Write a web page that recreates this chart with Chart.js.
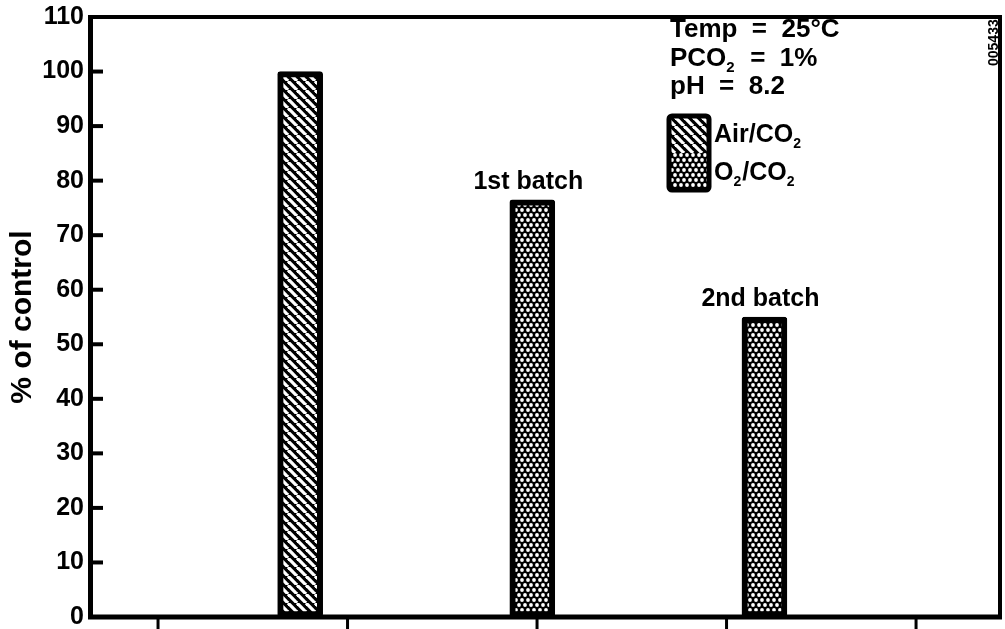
<!DOCTYPE html>
<html>
<head>
<meta charset="utf-8">
<script src="https://cdn.jsdelivr.net/npm/chart.js@4.4.1/dist/chart.umd.min.js"></script>
<style>
  html, body { margin: 0; padding: 0; background: #fff; }
  #wrap { width: 1005px; height: 629px; }
</style>
</head>
<body>
<div id="wrap"><canvas id="chart" width="1005" height="629"></canvas></div>
<script>
// data
const barX = [1.75, 2.975, 4.2]
const barValues = [100, 76.5, 55]
const barKinds = ['air', 'o2', 'o2']
const barLabels = ['', '1st batch', '2nd batch']
const yTicks = [0, 10, 20, 30, 40, 50, 60, 70, 80, 90, 100, 110]
const xTickMarks = [1, 2, 3, 4, 5]
const conditions = [['Temp  =  25°C'], ['PCO', '2', '  =  1%'], ['pH  =  8.2']]
const legendItems = [['Air/CO', '2', ''], ['O', '2', '/CO', '2']]

const FONT = "'Liberation Sans', Arial, sans-serif"

// hatched pattern: white "\" stripes on black
function makeHatch() {
  const p = 9
  const c = document.createElement('canvas')
  c.width = p; c.height = p
  const g = c.getContext('2d')
  g.fillStyle = '#000'
  g.fillRect(0, 0, p, p)
  g.strokeStyle = '#fff'
  g.lineWidth = 3.3
  for (let k = -1; k <= 1; k++) {
    g.beginPath()
    g.moveTo(k * p, 0)
    g.lineTo(k * p + p, p)
    g.stroke()
  }
  return g.createPattern(c, 'repeat')
}

// dotted pattern: white dots on black, staggered
function makeDots() {
  const w = 6, h = 10
  const c = document.createElement('canvas')
  c.width = w; c.height = h
  const g = c.getContext('2d')
  g.fillStyle = '#000'
  g.fillRect(0, 0, w, h)
  g.fillStyle = '#fff'
  const pts = [[0, 0], [w, 0], [0, h], [w, h], [w / 2, h / 2]]
  pts.forEach(([x, y]) => {
    g.beginPath()
    g.arc(x, y, 1.9, 0, Math.PI * 2)
    g.fill()
  })
  return g.createPattern(c, 'repeat')
}

const hatch = makeHatch()
const dots = makeDots()

// text with subscripts, parts alternate normal / subscript
function drawSubText(ctx, parts, x, y, size) {
  let cx = x
  parts.forEach((t, i) => {
    const sub = i % 2 === 1
    ctx.font = 'bold ' + (sub ? Math.round(size * 0.58) : size) + 'px ' + FONT
    ctx.fillText(t, cx, sub ? y + size * 0.25 : y)
    cx += ctx.measureText(t).width + (sub ? 1 : 0)
  })
}

const extras = {
  id: 'extras',
  afterDraw(chart) {
    const ctx = chart.ctx
    const a = chart.chartArea
    const xs = chart.scales.x
    const ys = chart.scales.y
    ctx.save()
    ctx.strokeStyle = '#000'
    ctx.fillStyle = '#000'

    // frame top and right, bottom axis
    ctx.lineWidth = 4
    ctx.beginPath()
    ctx.moveTo(a.left - 2, a.top)
    ctx.lineTo(a.right, a.top)
    ctx.lineTo(a.right, a.bottom)
    ctx.stroke()
    ctx.lineWidth = 5
    ctx.beginPath()
    ctx.moveTo(a.left - 2, a.bottom)
    ctx.lineTo(a.right + 2, a.bottom)
    ctx.stroke()

    // y ticks pointing inward
    ctx.lineWidth = 4
    yTicks.forEach(v => {
      if (v === 0 || v === 110) return
      const py = ys.getPixelForValue(v)
      ctx.beginPath()
      ctx.moveTo(a.left, py)
      ctx.lineTo(a.left + 13, py)
      ctx.stroke()
    })

    // x tick marks below the axis
    ctx.lineWidth = 3
    xTickMarks.forEach(v => {
      const px = xs.getPixelForValue(v)
      ctx.beginPath()
      ctx.moveTo(px, a.bottom + 2)
      ctx.lineTo(px, a.bottom + 13)
      ctx.stroke()
    })

    // labels over the bars
    ctx.font = 'bold 25px ' + FONT
    ctx.textAlign = 'center'
    ctx.textBaseline = 'alphabetic'
    barLabels.forEach((t, i) => {
      if (!t) return
      const px = xs.getPixelForValue(barX[i])
      const py = ys.getPixelForValue(barValues[i])
      ctx.fillText(t, px - 4, py - 11)
    })

    // conditions text
    ctx.textAlign = 'left'
    conditions.forEach((parts, i) => {
      drawSubText(ctx, parts, 670, 37 + i * 28.5, 26)
    })

    // legend box
    const lx = 669, ly = 116, lw = 40, lh = 37
    ctx.fillStyle = hatch
    ctx.fillRect(lx, ly, lw, lh)
    ctx.fillStyle = dots
    ctx.fillRect(lx, ly + lh, lw, lh)
    ctx.lineWidth = 5
    ctx.beginPath()
    ctx.roundRect(lx, ly, lw, lh * 2, 3)
    ctx.stroke()
    ctx.fillStyle = '#000'
    legendItems.forEach((parts, i) => {
      drawSubText(ctx, parts, 714, 142 + i * 38, 25)
    })

    // scan number
    ctx.save()
    ctx.translate(998, 66)
    ctx.rotate(-Math.PI / 2)
    ctx.font = 'bold 14px ' + FONT
    ctx.textAlign = 'left'
    ctx.fillText('005433', 0, 0)
    ctx.restore()

    ctx.restore()
  }
}

new Chart(document.getElementById('chart'), {
  type: 'bar',
  data: {
    datasets: [{
      data: barX.map((x, i) => ({ x: x, y: barValues[i] })),
      backgroundColor: barKinds.map(k => k === 'air' ? hatch : dots),
      borderColor: '#000',
      borderWidth: 6,
      borderRadius: 3,
      borderSkipped: false,
      barThickness: 45
    }]
  },
  options: {
    responsive: false,
    animation: false,
    events: [],
    layout: { padding: { top: 17, right: 5, bottom: 12, left: 0 } },
    plugins: { legend: { display: false }, tooltip: { enabled: false } },
    scales: {
      x: {
        type: 'linear',
        offset: false,
        min: 0.641,
        max: 5.443,
        display: false
      },
      y: {
        min: 0,
        max: 110,
        afterFit(scale) {
          scale.width = 90
          scale.paddingTop = 0
          scale.paddingBottom = 0
        },
        afterBuildTicks(scale) { scale.ticks = yTicks.map(v => ({ value: v })) },
        grid: { display: false, drawTicks: false },
        border: { display: true, color: '#000', width: 5 },
        ticks: {
          color: '#000',
          padding: 6,
          font: { family: FONT, size: 25, weight: 'bold' }
        },
        title: {
          display: true,
          text: '% of control',
          color: '#000',
          padding: { top: 5, bottom: 0 },
          font: { family: FONT, size: 30, weight: 'bold' }
        }
      }
    }
  },
  plugins: [extras]
})
</script>
</body>
</html>
